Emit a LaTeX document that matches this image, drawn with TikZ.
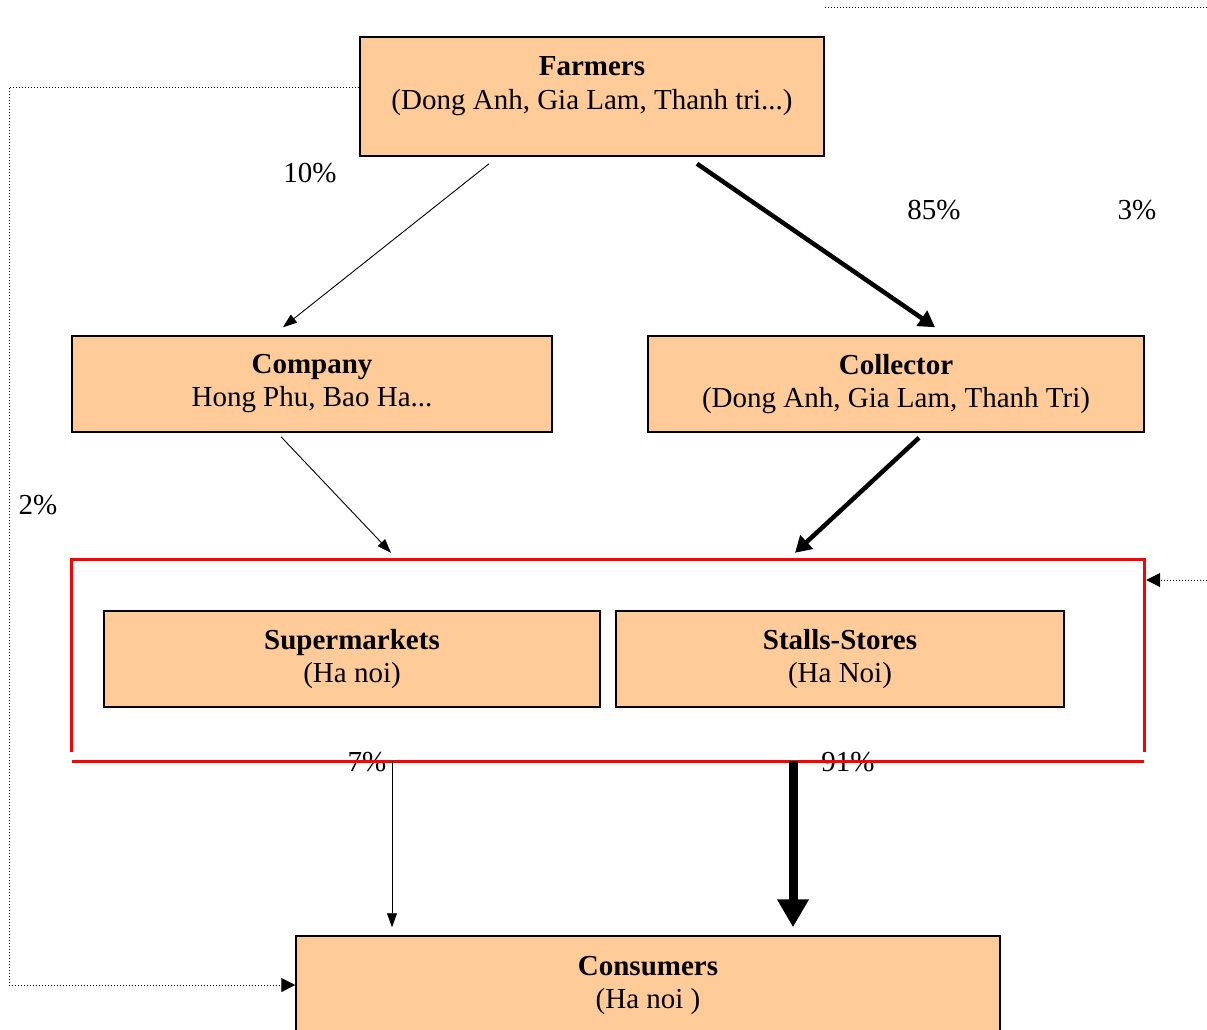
\documentclass[tikz,border=0pt]{standalone}
\usepackage{fontspec}
\setmainfont{Liberation Serif}
\usetikzlibrary{arrows.meta}
\definecolor{peach}{RGB}{255,204,153}

\begin{document}
\begin{tikzpicture}[x=1pt,y=-1pt,
    box/.style={draw,line width=1.5pt,fill=peach,align=center,inner sep=0pt},
    topbox/.style={box,text depth=27pt},
    pct/.style={inner sep=0pt},
    thinarr/.style={line width=0.9pt,-{Triangle[length=14pt,width=10pt]}},
    thickarr/.style={line width=4.5pt,-{Triangle[length=16pt,width=18pt]}},
    fatarr/.style={line width=9pt,-{Triangle[length=28pt,width=30pt]}},
    dotarr/.style={line width=1pt,dotted,-{Triangle[length=14pt,width=14pt]}},
    redline/.style={draw=red,line width=2.7pt}]
  \clip (0,0) rectangle (1207,1029);
  \fontsize{29}{33}\selectfont

  \node[topbox,minimum width=464,minimum height=119] (Fa) at (592,96.5) {\textbf{Farmers}\\(Dong Anh, Gia Lam, Thanh tri...)};
  \node[box,minimum width=480,minimum height=96] (Cp) at (312,384) {\textbf{Company}\\Hong Phu, Bao Ha...};
  \node[box,minimum width=496,minimum height=96] (Cl) at (896,384) {\textbf{Collector}\\(Dong Anh, Gia Lam, Thanh Tri)};

  \node[box,minimum width=496,minimum height=96] (Su) at (352,659) {\textbf{Supermarkets}\\(Ha noi)};
  \node[box,minimum width=448,minimum height=96] (St) at (840,659) {\textbf{Stalls-Stores}\\(Ha Noi)};

  \node[topbox,minimum width=704,minimum height=119] (Cn) at (648,995.5) {\textbf{Consumers}\\(Ha noi )};

  % percentages
  \node[pct] (P10) at (310,173) {10\%};
  \node[pct] (P85) at (934,210) {85\%};
  \node[pct] (P3) at (1137,210) {3\%};
  \node[pct] (P2) at (38,505) {2\%};
  \node[pct] (P7) at (367,762) {7\%};
  \node[pct] (P91) at (848,762) {91\%};

  % retail frame
  \node[minimum width=1072,minimum height=201,inner sep=0pt] (Rt) at (608,660.5) {};
  \draw[redline] ([yshift=9]Rt.south west) -- (Rt.north west) -- (Rt.north east) -- ([yshift=9]Rt.south east);
  \draw[redline] (Rt.south west) -- (Rt.south east);

  \draw[thinarr] ([xshift=-103pt,yshift=-7pt]Fa.south) to ([xshift=-29pt,yshift=8pt]Cp.north);
  \draw[thickarr] ([xshift=105pt,yshift=-7pt]Fa.south) to ([xshift=39pt,yshift=8pt]Cl.north);
  \draw[thinarr] ([xshift=-31pt,yshift=-4pt]Cp.south) to ([xshift=-217pt,yshift=7pt]Rt.north);
  \draw[thickarr] ([xshift=23pt,yshift=-5pt]Cl.south) to ([xshift=187pt,yshift=7pt]Rt.north);
  \draw[thinarr] ([xshift=-216pt]Rt.south) to ([xshift=-256pt,yshift=8pt]Cn.north);
  \draw[fatarr] ([xshift=185pt]Rt.south) to ([xshift=145pt,yshift=8pt]Cn.north);

  % dotted links
  \coordinate (Lc) at (9,500);
  \coordinate (Rc) at (1207,580);
  \draw[dotarr] ([yshift=9.5pt]Fa.west) -| (Lc) |- ([yshift=10.5pt]Cn.west);
  \draw[dotarr] (Rc) to ([yshift=80.5pt,xshift=2pt]Rt.east);
  \draw[line width=1pt,dotted] (825,7) -- (1207,7);

\end{tikzpicture}
\end{document}
